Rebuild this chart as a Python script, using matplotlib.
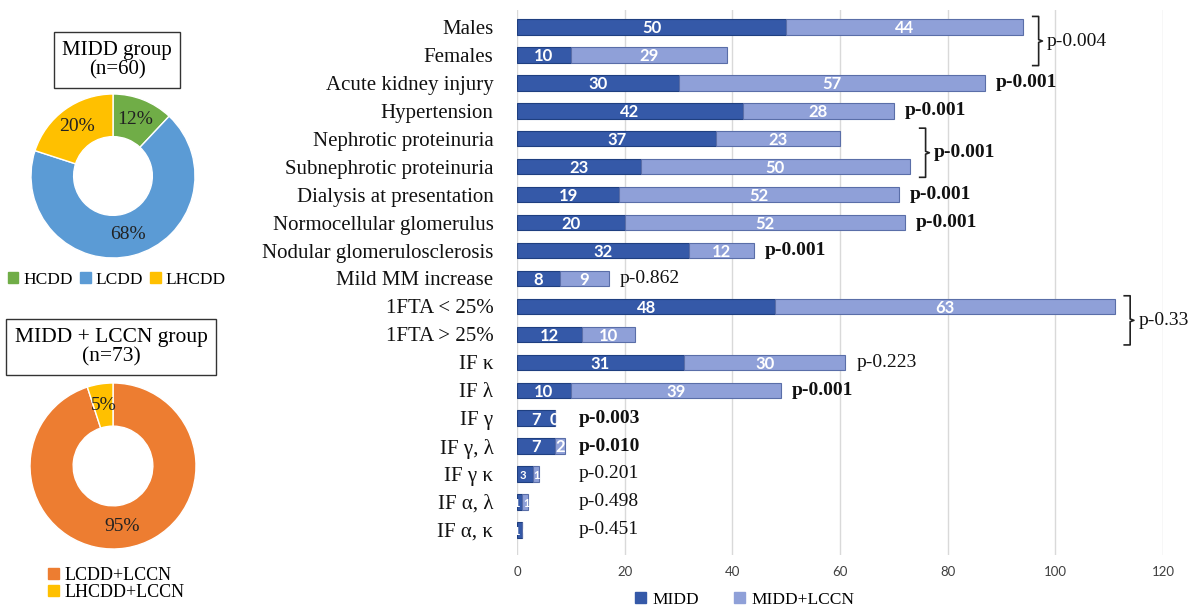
import math
import matplotlib
matplotlib.use("Agg")
import matplotlib.pyplot as plt
from matplotlib.patches import Patch

W, H = 1198, 612

categories = ["Males", "Females", "Acute kidney injury", "Hypertension",
              "Nephrotic proteinuria", "Subnephrotic proteinuria",
              "Dialysis at presentation", "Normocellular glomerulus",
              "Nodular glomerulosclerosis", "Mild MM increase",
              "1FTA < 25%", "1FTA > 25%", "IF \u03ba", "IF \u03bb", "IF \u03b3",
              "IF \u03b3, \u03bb", "IF \u03b3 \u03ba", "IF \u03b1, \u03bb", "IF \u03b1, \u03ba"]
midd = [50, 10, 30, 42, 37, 23, 19, 20, 32, 8, 48, 12, 31, 10, 7, 7, 3, 1, 1]
midd_lccn = [44, 29, 57, 28, 23, 50, 52, 52, 12, 9, 63, 10, 30, 39, 0, 2, 1, 1, 0]

# p-values for single rows: (row index, text, bold)
pvals_single = [(2, "p-0.001", True), (3, "p-0.001", True), (6, "p-0.001", True),
                (7, "p-0.001", True), (8, "p-0.001", True), (9, "p-0.862", False),
                (12, "p-0.223", False), (13, "p-0.001", True), (14, "p-0.003", True),
                (15, "p-0.010", True), (16, "p-0.201", False), (17, "p-0.498", False),
                (18, "p-0.451", False)]
# p-values spanning two rows: (row a, row b, text, bold)
pvals_pair = [(0, 1, "p-0.004", False), (4, 5, "p-0.001", True), (10, 11, "p-0.33", False)]

pie1_labels = ["HCDD", "LCDD", "LHCDD"]
pie1_values = [12, 68, 20]
pie2_labels = ["LCDD+LCCN", "LHCDD+LCCN"]
pie2_values = [95, 5]

DARK = "#3559a8"
LIGHT = "#8fa0d8"
SERIF = "Liberation Serif"

fig = plt.figure(figsize=(W / 100, H / 100), dpi=100)

# ---------------- bar chart ----------------
ax = fig.add_axes([517 / W, (H - 555) / H, 646 / W, 545 / H])
y = list(range(len(categories)))
bh = 0.55
ax.barh(y, midd, height=bh, color=DARK, edgecolor="#1f3f80", linewidth=0.8, zorder=3)
ax.barh(y, midd_lccn, left=midd, height=bh, color=LIGHT, edgecolor="#5a6ea8",
        linewidth=0.8, zorder=3)
ax.set_xlim(0, 120)
ax.set_ylim(18.9, -0.61)
ax.set_xticks(range(0, 121, 20))
ax.set_yticks(y)
ax.set_yticklabels(categories, fontfamily=SERIF, fontsize=15, color="#111111")
ax.tick_params(axis="y", length=0, pad=17)
ax.tick_params(axis="x", length=0, labelsize=9.5, labelcolor="#404040", pad=8)
for lab in ax.get_xticklabels():
    lab.set_fontfamily("Lato")
ax.grid(axis="x", color="#d9d9d9", linewidth=1, zorder=0)
for s in ax.spines.values():
    s.set_visible(False)

for i in y:
    a, b = midd[i], midd_lccn[i]
    small = a + b <= 4
    fs = 8 if small else 12
    if small:
        ax.text(a / 2 + 0.1, i + 0.05, str(a), ha="right", va="center", color="white",
                fontsize=fs, fontweight="bold", family="Lato", zorder=4)
        ax.text(a + 0.1, i + 0.05, str(b), ha="left", va="center", color="white",
                fontsize=fs, fontweight="bold", family="Lato", zorder=4)
    else:
        ax.text(a / 2, i + 0.05, str(a), ha="center", va="center", color="white",
                fontsize=fs, fontweight="bold", family="Lato", zorder=4)
        ax.text(a + b / 2, i + 0.05, str(b), ha="center", va="center", color="white",
                fontsize=fs, fontweight="bold", family="Lato", zorder=4)

for i, t, bold in pvals_single:
    end = midd[i] + midd_lccn[i]
    xpos = max(end + 2, 11.5)
    ax.text(xpos, i, t, ha="left", va="center", fontsize=14, family=SERIF,
            fontweight="bold" if bold else "normal", color="#111111")

for a, b, t, bold in pvals_pair:
    end = max(midd[a] + midd_lccn[a], midd[b] + midd_lccn[b])
    bx = end + 1.8
    y0, y1 = a - 0.38, b + 0.38
    ym = (a + b) / 2
    ax.plot([bx, bx + 1.1, bx + 1.1, bx + 1.8, bx + 1.1, bx + 1.1, bx],
            [y0, y0, ym - 0.05, ym, ym + 0.05, y1, y1],
            color="#222222", lw=1.2, clip_on=False)
    ax.text(bx + 2.6, ym, t, ha="left", va="center", fontsize=14, family=SERIF,
            fontweight="bold" if bold else "normal", color="#111111", clip_on=False)

fig.legend(handles=[Patch(color=DARK), Patch(color=LIGHT)],
           labels=["MIDD", "MIDD+LCCN"], loc="center", bbox_to_anchor=(745 / W, 1 - 600 / H),
           ncol=2, frameon=False, prop={"family": SERIF, "size": 12.5},
           handlelength=0.6, handleheight=0.6, columnspacing=2.0, handletextpad=0.4)

# ---------------- donuts ----------------
def donut(cx, cy, r, values, colors, labels_pct):
    axp = fig.add_axes([(cx - r) / W, (H - cy - r) / H, 2 * r / W, 2 * r / H])
    axp.pie(values, colors=colors, startangle=90, counterclock=False,
            radius=1, wedgeprops=dict(width=0.52, edgecolor="white", linewidth=1))
    axp.set_xlim(-1, 1)
    axp.set_ylim(-1, 1)
    axp.set_aspect("equal")
    ang = 90
    for v, lp in zip(values, labels_pct):
        mid = ang - v / sum(values) * 360 / 2
        ang -= v / sum(values) * 360
        rr = 0.74
        axp.text(rr * math.cos(math.radians(mid)), rr * math.sin(math.radians(mid)), lp,
                 ha="center", va="center", fontsize=14, family=SERIF, color="#222222")
    return axp

donut(113, 176, 82, pie1_values, ["#70ad47", "#5b9bd5", "#ffc000"],
      [f"{v}%" for v in pie1_values])
donut(113, 466, 83, pie2_values, ["#ed7d31", "#ffc000"],
      [f"{v}%" for v in pie2_values])

fig.text(117 / W, 1 - 60 / H, "MIDD group\n(n=60)", ha="center", va="center",
         fontsize=15, family=SERIF, linespacing=1.05,
         bbox=dict(boxstyle="square,pad=0.4", fc="white", ec="#333333", lw=1))
fig.text(111 / W, 1 - 347 / H, "MIDD + LCCN group\n(n=73)", ha="center", va="center",
         fontsize=15.5, family=SERIF, linespacing=1.05,
         bbox=dict(boxstyle="square,pad=0.4", fc="white", ec="#333333", lw=1))

fig.legend(handles=[Patch(color=c) for c in ["#70ad47", "#5b9bd5", "#ffc000"]],
           labels=pie1_labels, loc="center", bbox_to_anchor=(117 / W, 1 - 280 / H),
           ncol=3, frameon=False, prop={"family": SERIF, "size": 12.5},
           handlelength=0.6, handleheight=0.6, columnspacing=0.4, handletextpad=0.3)
fig.legend(handles=[Patch(color=c) for c in ["#ed7d31", "#ffc000"]],
           labels=pie2_labels, loc="center", bbox_to_anchor=(116 / W, 1 - 584 / H),
           ncol=1, frameon=False, prop={"family": SERIF, "size": 13},
           handlelength=0.6, handleheight=0.6, handletextpad=0.3, labelspacing=0.0)

fig.savefig("out.png", dpi=100)
